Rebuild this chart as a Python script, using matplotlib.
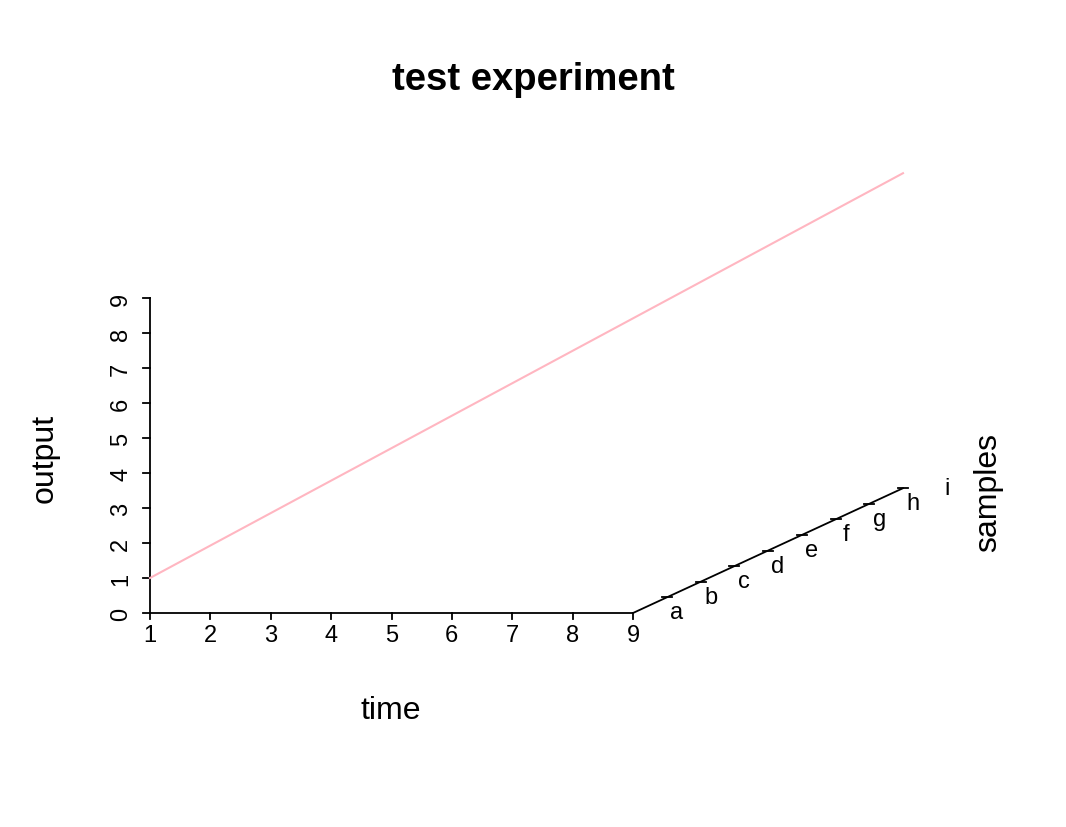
import matplotlib
matplotlib.use("Agg")
import matplotlib.pyplot as plt

plt.rcParams['font.family'] = ['Liberation Sans', 'DejaVu Sans']

# Data
time = [1, 2, 3, 4, 5, 6, 7, 8, 9]
output = [1, 2, 3, 4, 5, 6, 7, 8, 9]
samples = ['a', 'b', 'c', 'd', 'e', 'f', 'g', 'h', 'i']
x_ticks = [1, 2, 3, 4, 5, 6, 7, 8, 9]
y_ticks = [0, 1, 2, 3, 4, 5, 6, 7, 8, 9]

W, H = 1066, 828
fig = plt.figure(figsize=(W / 100, H / 100), dpi=100)
ax = fig.add_axes([0, 0, 1, 1])
ax.set_axis_off()

# pixel-based geometry of the oblique box
px_x0, px_x1 = 150, 633      # x=1 .. x=9
px_y0, px_y1 = 614, 299      # y=0 .. y=9
sx = (px_x1 - px_x0) / (x_ticks[-1] - x_ticks[0])
sy = (px_y0 - px_y1) / (y_ticks[-1] - y_ticks[0])
ax.set_xlim(0, W)
ax.set_ylim(H, 0)
dz = (33.75, -15.6)   # pixel shift per depth unit


def proj(x, y, z):
    return (px_x0 + (x - x_ticks[0]) * sx + z * dz[0],
            px_y0 - (y - y_ticks[0]) * sy + z * dz[1])


lw = 1.3
tfs = 17
# x axis
p0 = proj(x_ticks[0], 0, 0)
p1 = proj(x_ticks[-1], 0, 0)
ax.plot([p0[0], p1[0]], [p0[1], p1[1]], color='black', lw=lw, solid_capstyle='butt')
for t in x_ticks:
    px, py = proj(t, 0, 0)
    ax.plot([px, px], [py, py + 6], color='black', lw=lw)
    ax.text(px, py + 22, str(t), ha='center', va='center', fontsize=tfs)
# y axis
p0 = proj(x_ticks[0], y_ticks[0], 0)
p1 = proj(x_ticks[0], y_ticks[-1], 0)
ax.plot([p0[0], p1[0]], [p0[1], p1[1]], color='black', lw=lw)
for t in y_ticks:
    px, py = proj(x_ticks[0], t, 0)
    ax.plot([px - 7, px], [py, py], color='black', lw=lw)
    ax.text(px - 29, py, str(t), ha='center', va='center', fontsize=tfs, rotation=90)
# depth axis
nz = len(samples) - 1
p0 = proj(x_ticks[-1], 0, 0)
p1 = proj(x_ticks[-1], 0, nz)
ax.plot([p0[0], p1[0]], [p0[1], p1[1]], color='black', lw=lw)
for k in range(1, nz + 1):
    px, py = proj(x_ticks[-1], 0, k)
    ax.plot([px - 5, px + 5], [py, py], color='black', lw=lw)
for k, s in enumerate(samples, start=1):
    px, py = proj(x_ticks[-1], 0, k)
    ax.text(px + 10, py + 15, s, ha='center', va='center', fontsize=tfs)

# data line
pts = [proj(t, o, k) for k, (t, o) in enumerate(zip(time, output))]
ax.plot([p[0] for p in pts], [p[1] for p in pts], color='#FFB6C1', lw=1.5)

# labels
ax.text(533, 80, 'test experiment', ha='center', va='center', fontsize=27.5, fontweight='bold')
ax.text(391, 711, 'time', ha='center', va='center', fontsize=23)
ax.text(45, 458, 'output', ha='center', va='center', fontsize=23, rotation=90)
ax.text(988, 493, 'samples', ha='center', va='center', fontsize=23, rotation=90)

fig.savefig('out.png', dpi=100)
